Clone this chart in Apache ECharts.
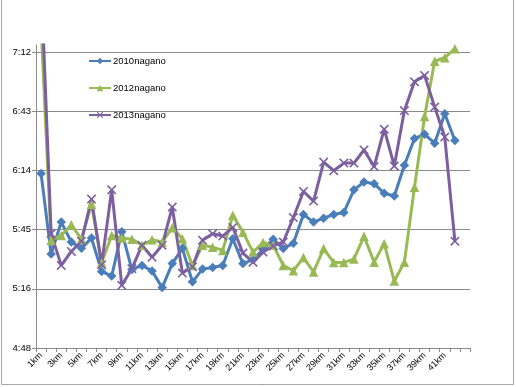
<!DOCTYPE html>
<html><head><meta charset="utf-8">
<script src="https://cdn.jsdelivr.net/npm/echarts@6/dist/echarts.min.js"></script>
<style>html,body{margin:0;padding:0;background:#fff}#c{width:516px;height:387px}</style>
</head><body><div id="c"></div>
<script>
// categories (km), pace in seconds per km
var categories = ['1km','2km','3km','4km','5km','6km','7km','8km','9km','10km','11km','12km','13km','14km','15km','16km','17km','18km','19km','20km','21km','22km','23km','24km','25km','26km','27km','28km','29km','30km','31km','32km','33km','34km','35km','36km','37km','38km','39km','40km','41km','42km',''];
var seriesNames = ['2010nagano','2012nagano','2013nagano'];
var pace2010 = [373,333.7,349.3,339.6,336.5,341.5,325.3,323,344.6,326.2,328.2,325.5,317.4,329.1,336.5,320.2,326.4,327.2,328.2,341.2,329.1,331,336,341,336.4,339,353,349.3,351.2,353,354,365,368.8,368,363.3,362,377,390,392,387.7,402,389];
var pace2012 = [445,340.5,342.8,348,341,358,329.5,342.8,341.5,341,338,340.7,339.6,346.5,341.2,328.2,338,337.1,335.5,352.6,344.4,334.7,339.3,338,328.2,325.6,332,325,336.4,329.6,329.6,331.3,342.4,329.8,338.8,320.6,329.8,366.3,400.7,427.6,429.3,433.7];
var pace2013 = [468,343.7,328.2,335,340,360.5,328.5,365,318.5,326.6,338,332.2,338,356.6,324.5,327.5,340.5,343.6,342.5,346.7,334.2,329.8,334.7,337.7,339.6,351.5,364.2,359.5,378.5,374.3,378,378,384.4,376.3,394.5,376.6,403.6,417.6,420.7,405.3,390.7,340];
var yTicks = {min: 288, max: 435.5, interval: 28.8};

var chart = echarts.init(document.getElementById('c'));
var xShape = 'path://M0,1.2 L1.2,0 L5,3.8 L8.8,0 L10,1.2 L6.2,5 L10,8.8 L8.8,10 L5,6.2 L1.2,10 L0,8.8 L3.8,5 Z';
var font = 'Liberation Sans, Arial, sans-serif';
function fmt(v){
  var k = (v - yTicks.min) / yTicks.interval;
  if (Math.abs(k - Math.round(k)) > 0.01) return '';
  var t = v + 1e-6;
  var m = Math.floor(t / 60), s = Math.floor(t % 60);
  return m + ':' + (s < 10 ? '0' + s : s);
}
var colors = ['#4a7ebb', '#98b954', '#7d5fa0'];
var datas = [pace2010, pace2012, pace2013];
var symbols = ['diamond', 'triangle', xShape];
var sizes = [9.5, 9.5, 9.5];
chart.setOption({
  backgroundColor: '#fff',
  animation: false,
  color: colors,
  grid: {left: 36, right: 46, top: 45, bottom: 39},
  graphic: [{type: 'rect', shape: {x: 1.5, y: -10, width: 512, height: 394.5}, style: {fill: 'none', stroke: '#a6a6a6', lineWidth: 1}, silent: true}],
  legend: {
    orient: 'vertical', left: 83, top: 51, itemGap: 17, itemWidth: 22, itemHeight: 8,
    textStyle: {fontSize: 9.5, color: '#000', fontFamily: font, padding: [0, 0, 0, -3]},
    data: seriesNames
  },
  xAxis: {
    type: 'category', data: categories, boundaryGap: true,
    axisLine: {lineStyle: {color: '#8a8a8a', width: 1}},
    axisTick: {show: true, interval: 0, length: 4, lineStyle: {color: '#8a8a8a'}},
    axisLabel: {interval: 1, rotate: 45, fontSize: 9, color: '#000', fontFamily: font, margin: 6},
    splitLine: {show: false}
  },
  yAxis: {
    type: 'value', min: yTicks.min, max: yTicks.max, interval: yTicks.interval,
    axisLine: {show: true, lineStyle: {color: '#8a8a8a', width: 1}},
    axisTick: {show: true, length: 4, lineStyle: {color: '#8a8a8a'}},
    axisLabel: {formatter: fmt, fontSize: 9.5, color: '#000', fontFamily: font, margin: 5, showMaxLabel: false},
    splitLine: {show: true, showMaxLine: false, lineStyle: {color: '#8a8a8a', width: 1}}
  },
  series: seriesNames.map(function(n, i){
    return {
      name: n, type: 'line', data: datas[i], symbol: symbols[i], symbolSize: sizes[i],
      showAllSymbol: true, clip: true,
      lineStyle: {width: 3, color: colors[i]},
      itemStyle: {color: colors[i]}
    };
  })
});
</script></body></html>
